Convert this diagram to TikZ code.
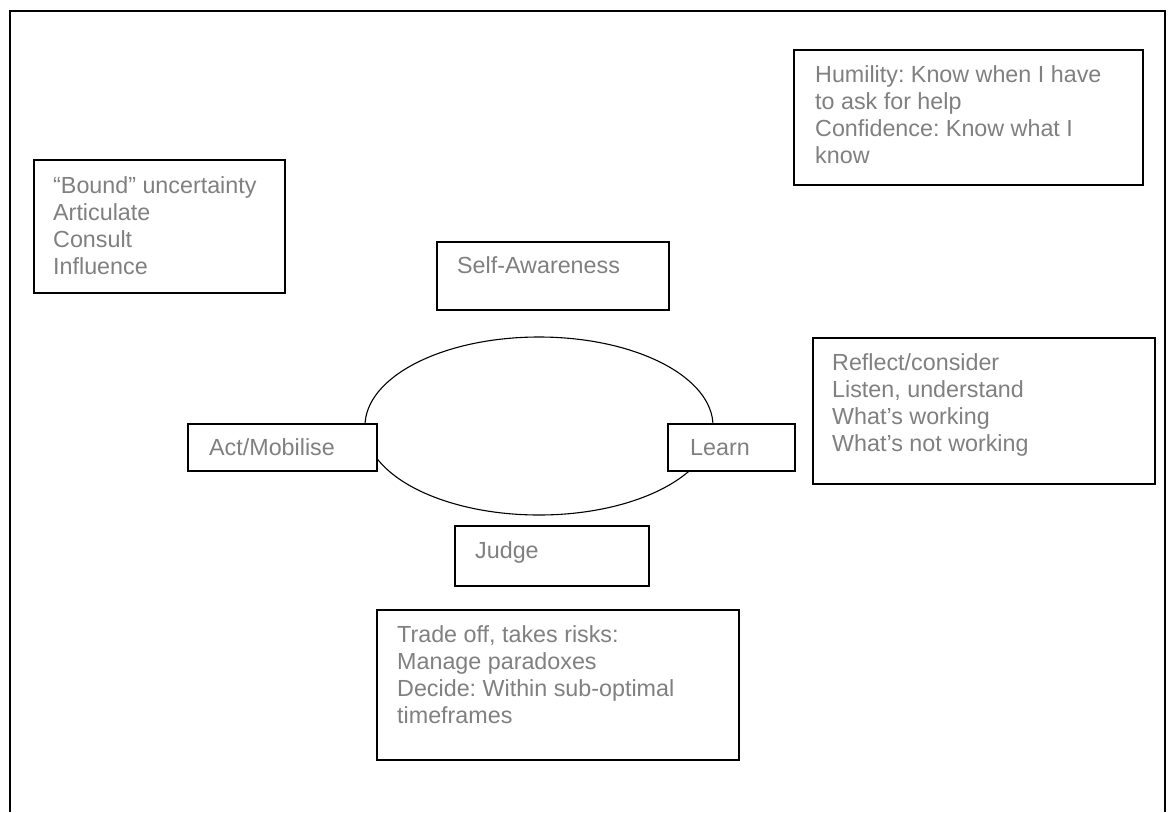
\documentclass[tikz,border=0pt]{standalone}
\usepackage{fontspec}
\setmainfont{Liberation Sans}
\frenchspacing
\definecolor{txtgray}{RGB}{128,128,128}
\tikzset{
  frame/.style={draw=black, line width=1.7pt},
  tbox/.style={draw=black, fill=white, line width=1.6pt, inner sep=0pt, anchor=north west},
  lbl/.style={text=txtgray, font=\fontsize{23.3}{27.3}\selectfont\frenchspacing, inner sep=0pt, anchor=base west},
  loop/.style={draw=black, line width=1.1pt}
}
\newcommand{\boxlines}[4]{% name, x, y0, lines
  \foreach \t [count=\i] in {#4}
    \node[lbl] (#1-\i) at (#2, #3+\i*27.3-27.3) {\t};
}
\begin{document}
\begin{tikzpicture}[x=1pt,y=-1pt]
\useasboundingbox (0,0) rectangle (1168,812);
% outer frame (bottom edge lies outside the page)
\draw[frame] (10,812) -- (10,11) -- (1165,11) -- (1165,812);
% central loop
\draw[loop] (539,426) ellipse (174 and 89);
% boxes
\node[tbox, minimum width=251, minimum height=133] (bound) at (33,159) {};
\node[tbox, minimum width=349, minimum height=135] (humil) at (793,49) {};
\node[tbox, minimum width=232, minimum height=68] (self) at (436,241) {};
\node[tbox, minimum width=189, minimum height=47] (act) at (187,423) {};
\node[tbox, minimum width=127, minimum height=47] (learn) at (667,423) {};
\node[tbox, minimum width=342, minimum height=146] (refl) at (812,337) {};
\node[tbox, minimum width=194, minimum height=60] (judge) at (454,525) {};
\node[tbox, minimum width=362, minimum height=150] (trade) at (376,609) {};
% texts
\boxlines{tbound}{53}{193}{“Bound” uncertainty, Articulate, Consult, Influence}
\boxlines{thumil}{815}{82}{Humility: Know when I have, to ask for help, Confidence: Know what I, know}
\boxlines{tself}{457}{273}{Self-Awareness}
\boxlines{tact}{209}{455}{Act/Mobilise}
\boxlines{tlearn}{690}{455}{Learn}
\boxlines{trefl}{832}{370}{Reflect/consider, {Listen, understand}, What’s working, What’s not working}
\boxlines{tjudge}{475}{558}{Judge}
\boxlines{ttrade}{397}{642}{{Trade off, takes risks:}, Manage paradoxes, Decide: Within sub-optimal, timeframes}
\end{tikzpicture}
\end{document}
